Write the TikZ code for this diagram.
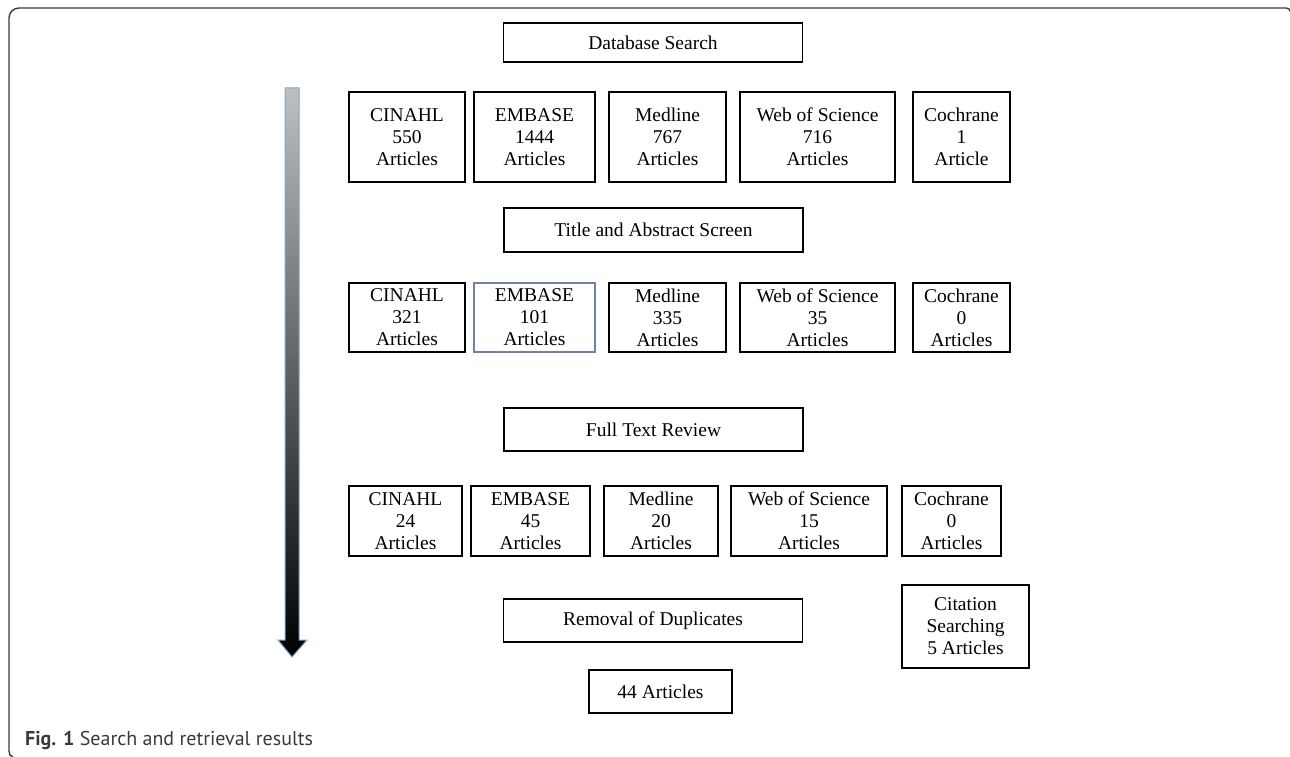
\documentclass[tikz,border=0pt]{standalone}
\usepackage{fontspec}
\setmainfont{Liberation Serif}
\newfontfamily\capfont{PT Sans}
\definecolor{framegray}{HTML}{3A3A3A}
\definecolor{arrowedge}{HTML}{7FA3CF}
\definecolor{bluebox}{HTML}{6E86A6}
\begin{document}
\begin{tikzpicture}[x=1pt,y=-1pt,
  box/.style={draw=black,line width=1.2pt,inner sep=0pt,align=center,
    font=\fontsize{19.5}{22}\selectfont},
  wide/.style={box,minimum width=299pt,minimum height=43pt}]
\useasboundingbox (0,0) rectangle (1290,757);
% frame
\draw[framegray,line width=1.4pt] (1290,11) to[out=90,in=0] (1286,8) -- (19,8)
  to[out=180,in=90] (9,18) -- (9,751) to[out=-90,in=180] (13,757);
% timeline arrow
\shade[top color=black!25,bottom color=black,draw=arrowedge,line width=1pt]
  (285,88) -- (299,88) -- (299,640) -- (307,640) -- (292,657) -- (278,640) -- (285,640) -- cycle;
% headers
\node[wide,minimum height=39pt] (db) at (653,42.5) {Database Search};
\node[wide,minimum height=44pt] (ta) at (653.5,230) {Title and Abstract Screen};
\node[wide] (ft) at (653.5,429.5) {Full Text Review};
\node[wide] (rd) at (653,620.5) {Removal of Duplicates};
% row 1
\node[box,minimum width=116pt,minimum height=90pt] (c1) at (407,137) {CINAHL\\550\\Articles};
\node[box,minimum width=121pt,minimum height=90pt] (e1) at (534.5,137) {EMBASE\\1444\\Articles};
\node[box,minimum width=117pt,minimum height=90pt] (m1) at (667.5,137) {Medline\\767\\Articles};
\node[box,minimum width=155pt,minimum height=90pt] (w1) at (817.5,137) {Web of Science\\716\\Articles};
\node[box,minimum width=97pt,minimum height=90pt] (k1) at (961.5,137) {Cochrane\\1\\Article};
% row 2
\node[box,minimum width=116pt,minimum height=69pt] (c2) at (407,317.5) {CINAHL\\321\\Articles};
\node[box,draw=bluebox,minimum width=121pt,minimum height=69pt] (e2) at (534.5,317.5) {EMBASE\\101\\Articles};
\node[box,minimum width=117pt,minimum height=69pt] (m2) at (667.5,317.5) {Medline\\335\\Articles};
\node[box,minimum width=155pt,minimum height=69pt] (w2) at (817.5,317.5) {Web of Science\\35\\Articles};
\node[box,minimum width=97pt,minimum height=69pt] (k2) at (961.5,317.5) {Cochrane\\0\\Articles};
% row 3
\node[box,minimum width=113pt,minimum height=70pt] (c3) at (405.5,521) {CINAHL\\24\\Articles};
\node[box,minimum width=119pt,minimum height=70pt] (e3) at (530.5,521) {EMBASE\\45\\Articles};
\node[box,minimum width=114pt,minimum height=70pt] (m3) at (661,521) {Medline\\20\\Articles};
\node[box,minimum width=156pt,minimum height=70pt] (w3) at (809,521) {Web of Science\\15\\Articles};
\node[box,minimum width=99pt,minimum height=70pt] (k3) at (951.5,521) {Cochrane\\0\\Articles};
% bottom
\node[box,minimum width=127pt,minimum height=83pt] (cs) at (965.5,626.5) {Citation\\Searching\\5 Articles};
\node[box,minimum width=143pt,minimum height=43pt] (res) at (660.5,691.5) {44 Articles};
% caption
\node[anchor=base west,inner sep=0pt,text=framegray,font=\capfont\fontsize{20}{22}\selectfont] (cap) at (25,745)
  {\textbf{Fig. 1} Search and retrieval results};
\end{tikzpicture}
\end{document}
